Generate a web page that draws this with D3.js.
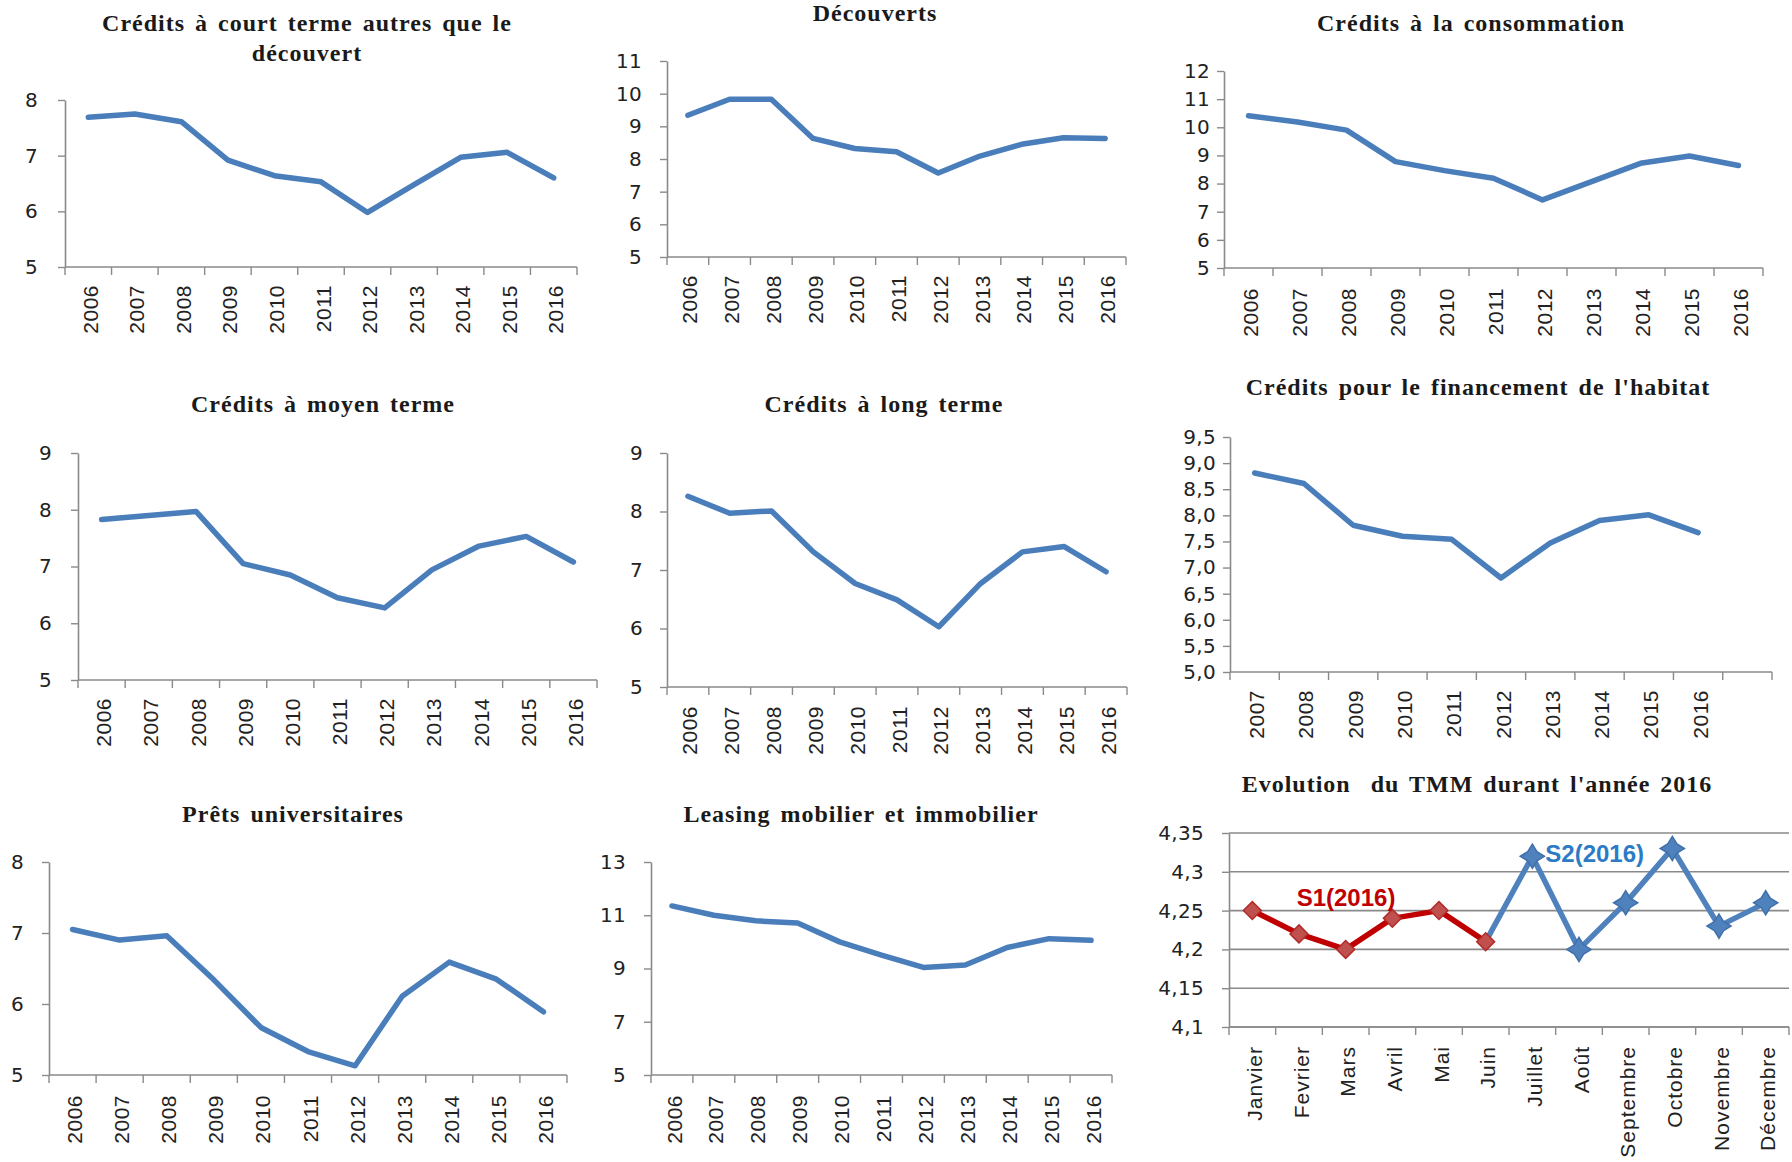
<!DOCTYPE html>
<html>
<head>
<meta charset="utf-8">
<script src="https://cdn.jsdelivr.net/npm/d3@7"></script>
<style>
  html, body { margin: 0; padding: 0; background: #ffffff; }
  svg { display: block; }
  .title { font-family: "Liberation Serif", "Times New Roman", serif; font-weight: bold; font-size: 24px; letter-spacing: 1px; word-spacing: 3px; fill: #1a1a1a; white-space: pre; }
  .ytick text { font-family: "DejaVu Sans", sans-serif; font-size: 20px; fill: #222; letter-spacing: 0.3px; }
  .xlab { font-family: "Liberation Sans", Arial, sans-serif; font-size: 21px; fill: #222; letter-spacing: 0.5px; }
  .mlab { font-family: "Liberation Sans", Arial, sans-serif; font-size: 21px; fill: #222; letter-spacing: 1px; }
</style>
</head>
<body>
<svg id="chart" width="1792" height="1162"></svg>
<script>
// ---------------- DATA ----------------
const years = ["2006","2007","2008","2009","2010","2011","2012","2013","2014","2015","2016"];
const habitatYears = ["2007","2008","2009","2010","2011","2012","2013","2014","2015","2016"];
const months = ["Janvier","Fevrier","Mars","Avril","Mai","Juin","Juillet","Août","Septembre","Octobre","Novembre","Décembre"];

const courtTerme     = [7.69, 7.75, 7.61, 6.92, 6.64, 6.53, 5.98, 6.48, 6.97, 7.06, 6.60];
const decouverts     = [9.34, 9.83, 9.83, 8.63, 8.32, 8.22, 7.57, 8.09, 8.45, 8.65, 8.63];
const consommation   = [10.41, 10.19, 9.90, 8.78, 8.46, 8.19, 7.42, 8.07, 8.72, 8.98, 8.64];
const moyenTerme     = [7.83, 7.90, 7.97, 7.05, 6.85, 6.45, 6.27, 6.94, 7.36, 7.53, 7.08];
const longTerme      = [8.26, 7.97, 8.01, 7.31, 6.77, 6.49, 6.03, 6.77, 7.31, 7.40, 6.97];
const habitat        = [8.81, 8.61, 7.81, 7.60, 7.54, 6.80, 7.47, 7.90, 8.01, 7.67];
const universitaires = [7.05, 6.90, 6.96, 6.34, 5.67, 5.33, 5.13, 6.11, 6.59, 6.35, 5.89];
const leasing        = [11.35, 11.00, 10.79, 10.71, 10.00, 9.50, 9.04, 9.13, 9.79, 10.12, 10.06];

const tmmS1 = [4.25, 4.22, 4.20, 4.24, 4.25, 4.21, null, null, null, null, null, null];
const tmmS2 = [null, null, null, null, null, 4.21, 4.32, 4.20, 4.26, 4.33, 4.23, 4.26];

const ticksCourt   = [5, 6, 7, 8];
const ticksDecouv  = [5, 6, 7, 8, 9, 10, 11];
const ticksConso   = [5, 6, 7, 8, 9, 10, 11, 12];
const ticksMoyen   = [5, 6, 7, 8, 9];
const ticksLong    = [5, 6, 7, 8, 9];
const ticksHabitat = [5.0, 5.5, 6.0, 6.5, 7.0, 7.5, 8.0, 8.5, 9.0, 9.5];
const ticksUniv    = [5, 6, 7, 8];
const ticksLeasing = [5, 7, 9, 11, 13];
const ticksTmm     = [4.1, 4.15, 4.2, 4.25, 4.3, 4.35];

const titles = [
  ["Crédits à court terme autres que le", "découvert"],
  ["Découverts"],
  ["Crédits à la consommation"],
  ["Crédits à moyen terme"],
  ["Crédits à long terme"],
  ["Crédits pour le financement de l'habitat"],
  ["Prêts universitaires"],
  ["Leasing mobilier et immobilier"],
  ["Evolution  du TMM durant l'année 2016"]
];
const seriesLabels = ["S1(2016)", "S2(2016)"];

// ---------------- LAYOUT / STYLE ----------------
const BLUE = "#4A7EBB", AXIS = "#8a8a8a";
const fmtInt = d => String(d);
const fmtOne = d => d3.format(".1f")(d).replace(".", ",");
const fmtComma = d => String(d).replace(".", ",");

const panels = [
  { cats: years, vals: courtTerme, ticks: ticksCourt, fmt: fmtInt, title: titles[0],
    L: 65, R: 577, T: 100, B: 267, yGap: 27, xGap: 18, tx: 307, ty: [31, 61] },
  { cats: years, vals: decouverts, ticks: ticksDecouv, fmt: fmtInt, title: titles[1],
    L: 667, R: 1126, T: 61, B: 257, yGap: 25, xGap: 18, tx: 875, ty: [21] },
  { cats: years, vals: consommation, ticks: ticksConso, fmt: fmtInt, title: titles[2],
    L: 1224, R: 1763, T: 71, B: 268, yGap: 14, xGap: 20, tx: 1471, ty: [31] },
  { cats: years, vals: moyenTerme, ticks: ticksMoyen, fmt: fmtInt, title: titles[3],
    L: 78, R: 597, T: 453, B: 680, yGap: 26, xGap: 18, tx: 323, ty: [412] },
  { cats: years, vals: longTerme, ticks: ticksLong, fmt: fmtInt, title: titles[4],
    L: 667, R: 1127, T: 453, B: 687, yGap: 24, xGap: 19, tx: 884, ty: [412] },
  { cats: habitatYears, extra: 1, vals: habitat, ticks: ticksHabitat, fmt: fmtOne, title: titles[5],
    L: 1230, R: 1772, T: 437, B: 672, yGap: 14, xGap: 18, tx: 1478, ty: [395] },
  { cats: years, vals: universitaires, ticks: ticksUniv, fmt: fmtInt, title: titles[6],
    L: 49, R: 567, T: 862, B: 1075, yGap: 25, xGap: 20, tx: 293, ty: [822] },
  { cats: years, vals: leasing, ticks: ticksLeasing, fmt: fmtInt, title: titles[7],
    L: 651, R: 1112, T: 862, B: 1075, yGap: 25, xGap: 20, tx: 861, ty: [822] }
];

const svg = d3.select("#chart");

function drawTitle(lines, tx, ty) {
  lines.forEach((t, i) => {
    svg.append("text").attr("class", "title")
      .attr("x", tx).attr("y", ty[i]).attr("text-anchor", "middle").text(t);
  });
}

function drawFrame(p, grid) {
  const domain = p.cats.slice();
  for (let i = 0; i < (p.extra || 0); i++) domain.push("__empty" + i);
  const x = d3.scaleBand().domain(domain).range([p.L, p.R]).padding(0);
  const y = d3.scaleLinear().domain([p.ticks[0], p.ticks[p.ticks.length - 1]]).range([p.B, p.T]);
  const g = svg.append("g");

  if (grid) {
    g.append("g").selectAll("line").data(p.ticks).join("line")
      .attr("x1", p.L).attr("x2", p.R)
      .attr("y1", d => y(d)).attr("y2", d => y(d))
      .attr("stroke", AXIS).attr("stroke-width", 1.6);
  }

  const ya = g.append("g").attr("class", "ytick").attr("transform", `translate(${p.L},0)`)
    .call(d3.axisLeft(y).tickValues(p.ticks).tickFormat(p.fmt).tickSize(7).tickSizeOuter(0).tickPadding(p.yGap - 7));
  ya.select(".domain").attr("stroke", AXIS).attr("stroke-width", 1.6);
  ya.selectAll(".tick line").attr("stroke", AXIS).attr("stroke-width", 1.4);
  ya.selectAll("text").attr("font-family", null).attr("font-size", null).attr("fill", "#222");

  g.append("line").attr("x1", p.L).attr("x2", p.R).attr("y1", p.B).attr("y2", p.B)
    .attr("stroke", AXIS).attr("stroke-width", 1.6);
  const bounds = domain.map(d => x(d)).concat([x(domain[domain.length - 1]) + x.bandwidth()]);
  g.append("g").selectAll("line").data(bounds).join("line")
    .attr("x1", d => d).attr("x2", d => d).attr("y1", p.B).attr("y2", p.B + 8)
    .attr("stroke", AXIS).attr("stroke-width", 1.4);

  g.append("g").selectAll("text").data(p.cats).join("text")
    .attr("class", p.labClass || "xlab")
    .attr("transform", d => `translate(${x(d) + x.bandwidth() / 2 + 2},${p.B + p.xGap}) rotate(-90)`)
    .attr("text-anchor", "end").attr("dy", "0.36em").text(d => d);

  return { x, y };
}

// ---- eight yearly panels ----
panels.forEach(p => {
  const { x, y } = drawFrame(p, false);
  const pts = p.cats.map((c, i) => ({ c, v: p.vals[i] }));
  const line = d3.line().x(d => x(d.c) + x.bandwidth() / 2).y(d => y(d.v));
  svg.append("path").datum(pts).attr("d", line)
    .attr("fill", "none").attr("stroke", BLUE).attr("stroke-width", 5.5)
    .attr("stroke-linejoin", "round").attr("stroke-linecap", "round");
  drawTitle(p.title, p.tx, p.ty);
});

// ---- TMM panel ----
const tmm = { cats: months, ticks: ticksTmm, fmt: fmtComma, labClass: "mlab",
  L: 1229, R: 1789, T: 833, B: 1027, yGap: 25, xGap: 19 };
const { x: xm, y: ym } = drawFrame(tmm, true);
drawTitle(titles[8], 1477, [792]);

const cx = c => xm(c) + xm.bandwidth() / 2;
const ptsS1 = months.map((c, i) => ({ c, v: tmmS1[i] }));
const ptsS2 = months.map((c, i) => ({ c, v: tmmS2[i] }));
const tline = d3.line().defined(d => d.v != null).x(d => cx(d.c)).y(d => ym(d.v));

const star4 = {
  draw(ctx, size) {
    const r = Math.sqrt(size) * 0.75, s = r * 0.38;
    ctx.moveTo(0, -r); ctx.lineTo(s, -s); ctx.lineTo(r, 0); ctx.lineTo(s, s);
    ctx.lineTo(0, r); ctx.lineTo(-s, s); ctx.lineTo(-r, 0); ctx.lineTo(-s, -s); ctx.closePath();
  }
};

svg.append("path").datum(ptsS2).attr("d", tline)
  .attr("fill", "none").attr("stroke", "#4F81BD").attr("stroke-width", 5.5).attr("stroke-linejoin", "round");
svg.append("g").selectAll("path").data(ptsS2.filter((d, i) => d.v != null && i > 5)).join("path")
  .attr("transform", d => `translate(${cx(d.c)},${ym(d.v)})`)
  .attr("d", d3.symbol(star4, 260)())
  .attr("fill", "#4F81BD").attr("stroke", "#3f70aa").attr("stroke-width", 1.5);

svg.append("path").datum(ptsS1).attr("d", tline)
  .attr("fill", "none").attr("stroke", "#C00000").attr("stroke-width", 5.5).attr("stroke-linejoin", "round");
svg.append("g").selectAll("path").data(ptsS1.filter(d => d.v != null)).join("path")
  .attr("transform", d => `translate(${cx(d.c)},${ym(d.v)}) rotate(45)`)
  .attr("d", d3.symbol(d3.symbolSquare, 160)())
  .attr("fill", "#C0504D").attr("stroke", "#B22A2A").attr("stroke-width", 1.5);

svg.append("text").attr("x", cx("Mars") - 49).attr("y", ym(4.25) - 5)
  .attr("font-family", "Liberation Sans, Arial, sans-serif").attr("font-weight", "bold")
  .attr("font-size", 24).attr("fill", "#C00000").text(seriesLabels[0]);
svg.append("text").attr("x", cx("Juillet") + 13).attr("y", ym(4.3) - 10)
  .attr("font-family", "Liberation Sans, Arial, sans-serif").attr("font-weight", "bold")
  .attr("font-size", 24).attr("fill", "#2C7BC6").text(seriesLabels[1]);
</script>
</body>
</html>
